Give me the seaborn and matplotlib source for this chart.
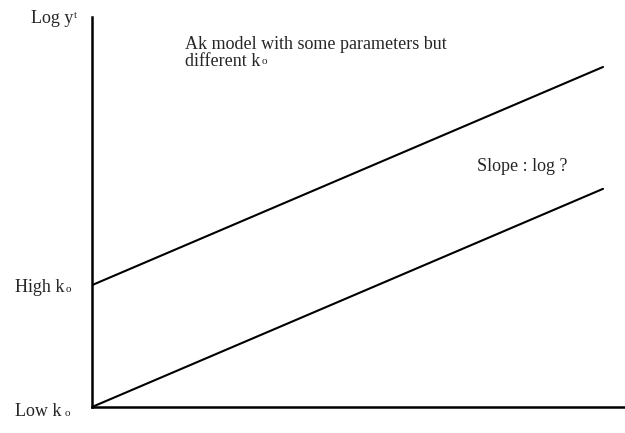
import numpy as np
import matplotlib
matplotlib.use("Agg")
import matplotlib.pyplot as plt
import seaborn as sns
import pandas as pd

sns.set_style('white')
plt.rcParams['font.family'] = ['Liberation Serif', 'DejaVu Serif']

# data (arbitrary units)
t_vals = [0, 10]
low_k0 = [0.0, 1.79]
high_k0 = [1.0, 2.79]
x_max = 10.43
y_max = 3.2

df = pd.DataFrame({
    "t": t_vals * 2,
    "log_y": low_k0 + high_k0,
    "k0": ["Low"] * 2 + ["High"] * 2,
})

W, H = 625, 433
fig = plt.figure(figsize=(W / 100, H / 100), dpi=100)
ax = fig.add_axes([92 / W, (H - 407) / H, 533 / W, 390 / H])

sns.lineplot(data=df, x="t", y="log_y", units="k0", estimator=None,
             color="black", linewidth=1.5, ax=ax, legend=False)

ax.set_xlim(0, x_max)
ax.set_ylim(0, y_max)
ax.set_xticks([])
ax.set_yticks([])
ax.set_xlabel("")
ax.set_ylabel("")
for s in ["top", "right"]:
    ax.spines[s].set_visible(False)
for s in ["left", "bottom"]:
    ax.spines[s].set_color("black")
    ax.spines[s].set_linewidth(1.8)


def px(x, y):
    return x / W, 1 - y / H


fs = 13
small = 8


def put(x, y, txt, size=fs):
    fig.text(*px(x, y), txt, fontsize=size, va="baseline", ha="left")


# y-axis label
put(31, 23, "Log y")
put(74, 18, "t", small)

# axis tick labels
put(15, 292, "High k")
put(66, 292, "o", small)
put(15, 416, "Low k")
put(65, 416, "o", small)

# annotations
put(185, 49, "Ak model with some parameters but")
put(185, 66, "different k")
put(262, 64, "o", small)
put(477, 171, "Slope : log ?")

fig.savefig("out.png", dpi=100)
